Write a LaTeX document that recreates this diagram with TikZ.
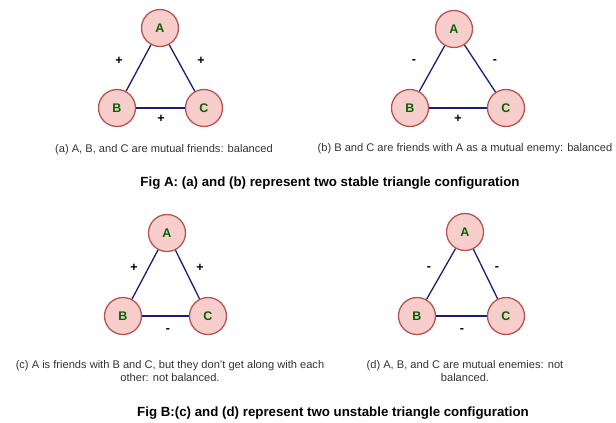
\documentclass[tikz,border=0pt]{standalone}
\usepackage{fontspec}
\setmainfont{Liberation Sans}
\usepackage{xcolor}
\definecolor{pinkfill}{HTML}{F8CECC}
\definecolor{redline}{HTML}{B85450}
\definecolor{greenletter}{HTML}{006600}
\definecolor{navytie}{HTML}{1C1C78}
\definecolor{capgray}{HTML}{333333}
\tikzset{
	person/.style={circle, draw=redline, fill=pinkfill, line width=1.3pt, minimum size=37pt, inner sep=0pt, text=greenletter, font=\bfseries\fontsize{12.5}{14}\selectfont},
	tie/.style={draw=navytie, line width=1.3pt},
	sign/.style={font=\bfseries\fontsize{12.5}{14}\selectfont},
	legend/.style={text=capgray, align=center, font=\fontsize{11.1}{13.5}\selectfont},
	figtitle/.style={font=\bfseries\fontsize{13.3}{16}\selectfont}
}

\begin{document}
\begin{tikzpicture}[x=1pt, y=-1pt]
	\useasboundingbox (0,0) rectangle (616,423);
	\node [person] (Aa) at (160,28) {A};
	\node [person] (Ba) at (117,108) {B};
	\node [person] (Ca) at (204,108) {C};
	\draw [tie] (Aa) -- (Ba);
	\draw [tie] (Aa) -- (Ca);
	\draw [tie] (Ba) -- (Ca);
	\node [sign] (sABa) at (119,61) {+};
	\node [sign] (sACa) at (201,61) {+};
	\node [sign] (sBCa) at (161,119) {+};
	\node [legend] (capa) at (164,150) {(a) A, B, and C are mutual friends: balanced};

	\node [person] (Ab) at (454,29) {A};
	\node [person] (Bb) at (410,108) {B};
	\node [person] (Cb) at (506,108) {C};
	\draw [tie] (Ab) -- (Bb);
	\draw [tie] (Ab) -- (Cb);
	\draw [tie] (Bb) -- (Cb);
	\node [sign] (sABb) at (414,62) {-};
	\node [sign] (sACb) at (495,62) {-};
	\node [sign] (sBCb) at (458,119) {+};
	\node [legend] (capb) at (465,149) {(b) B and C are friends with A as a mutual enemy: balanced};

	\node [figtitle] (figA) at (330,183) {Fig A: (a) and (b) represent two stable triangle configuration};

	\node [person] (Ac) at (167,233) {A};
	\node [person] (Bc) at (123,316) {B};
	\node [person] (Cc) at (208,316) {C};
	\draw [tie] (Ac) -- (Bc);
	\draw [tie] (Ac) -- (Cc);
	\draw [tie] (Bc) -- (Cc);
	\node [sign] (sABc) at (134,268) {+};
	\node [sign] (sACc) at (200,268) {+};
	\node [sign] (sBCc) at (168,331) {-};
	\node [legend] (capc) at (170,371) {(c) A is friends with B and C, but they don't get along with each\\other: not balanced.};

	\node [person] (Ad) at (465,232) {A};
	\node [person] (Bd) at (417,316) {B};
	\node [person] (Cd) at (506,316) {C};
	\draw [tie] (Ad) -- (Bd);
	\draw [tie] (Ad) -- (Cd);
	\draw [tie] (Bd) -- (Cd);
	\node [sign] (sABd) at (429,269) {-};
	\node [sign] (sACd) at (497,269) {-};
	\node [sign] (sBCd) at (462,331) {-};
	\node [legend] (capd) at (465,371) {(d) A, B, and C are mutual enemies: not\\balanced.};

	\node [figtitle] (figB) at (333,413) {Fig B:(c) and (d) represent two unstable triangle configuration};
\end{tikzpicture}
\end{document}
